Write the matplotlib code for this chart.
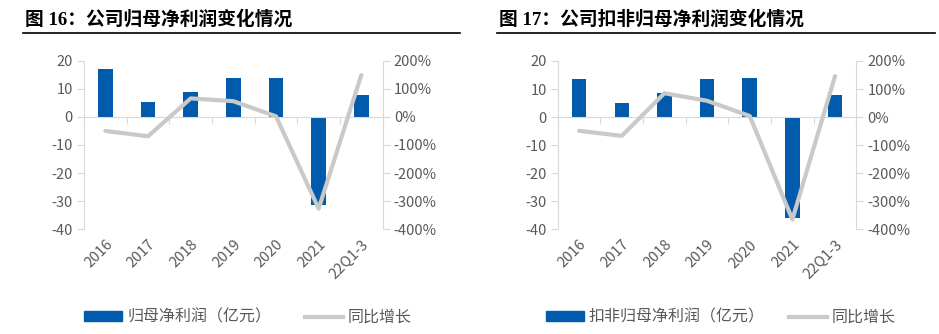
import numpy as np
import matplotlib
matplotlib.use("Agg")
import matplotlib.pyplot as plt
from matplotlib.ticker import FuncFormatter, FixedLocator
from matplotlib.patches import Patch
from matplotlib.lines import Line2D

plt.rcParams['font.family'] = ['Noto Sans CJK SC', 'DejaVu Sans']
plt.rcParams['axes.unicode_minus'] = False

categories = ['2016', '2017', '2018', '2019', '2020', '2021', '22Q1-3']

# 图16 归母净利润
profit = [16.9, 5.3, 9.0, 13.7, 14.0, -31.4, 7.8]
profit_yoy = [-50, -69, 66, 56, 2, -327, 149]

# 图17 扣非归母净利润
core_profit = [13.4, 4.9, 8.7, 13.4, 13.8, -36.0, 7.7]
core_yoy = [-49, -67, 85, 58, 4, -365, 146]

BLUE = '#005bac'
GREY_LINE = '#c9c9c9'
AXIS = '#d9d9d9'
TEXT = '#595959'

pct = FuncFormatter(lambda x, pos: '%d%%' % x)


def panel(fig, rect, title, title_x, line_x, values, yoy, bar_label, leg_x, colsp):
    ax = fig.add_axes(rect)
    x = np.arange(len(categories))
    ax.bar(x, values, width=0.34, color=BLUE, zorder=2)
    ax.set_xlim(-0.5, len(categories) - 0.5)
    ax.set_ylim(-40, 20)
    ax.set_yticks(range(-40, 21, 10))

    for s in ['top', 'right']:
        ax.spines[s].set_visible(False)
    ax.spines['left'].set_color(AXIS)
    ax.spines['bottom'].set_color(AXIS)
    ax.spines['bottom'].set_position(('data', 0))
    ax.xaxis.set_major_locator(FixedLocator(np.arange(-0.5, len(categories), 1)))
    ax.tick_params(axis='x', length=5, color=AXIS, labelbottom=False)
    ax.tick_params(axis='y', length=5, color=AXIS, labelcolor=TEXT, labelsize=10.5, pad=3)

    sec = ax.secondary_xaxis('bottom')
    sec.set_xticks(x)
    sec.set_xticklabels(categories, rotation=45, ha='right', rotation_mode='anchor')
    sec.tick_params(length=0, labelcolor=TEXT, labelsize=10.5, pad=6)
    sec.spines['bottom'].set_visible(False)

    ax2 = ax.twinx()
    ax2.plot(x, yoy, color=GREY_LINE, lw=3, solid_capstyle='round', zorder=3)
    ax2.set_ylim(-400, 200)
    ax2.set_yticks(range(-400, 201, 100))
    ax2.yaxis.set_major_formatter(pct)
    for s in ['top', 'left', 'bottom']:
        ax2.spines[s].set_visible(False)
    ax2.spines['right'].set_color(AXIS)
    ax2.tick_params(axis='y', length=5, color=AXIS, labelcolor=TEXT, labelsize=10.5, pad=3)

    fig.text(title_x, 0.925, title, fontsize=13.5, fontweight='bold', color='black',
             family=['Liberation Serif', 'Noto Sans CJK SC'], va='baseline')
    fig.add_artist(Line2D(line_x, [0.901, 0.901], color='black', lw=1.2))

    handles = [Patch(color=BLUE), Line2D([0], [0], color=GREY_LINE, lw=3)]
    fig.legend(handles, [bar_label, '同比增长'], loc='center left',
               bbox_to_anchor=(leg_x, 0.05), ncol=2, frameon=False,
               fontsize=11.5, labelcolor=TEXT, handlelength=2.4, handleheight=0.55,
               handletextpad=0.3, columnspacing=colsp, borderaxespad=0, borderpad=0)


fig = plt.figure(figsize=(9.39, 3.34), dpi=100)
panel(fig, [0.0895, 0.314, 0.318, 0.504], '图 16：公司归母净利润变化情况',
      0.0266, [0.0245, 0.490], profit, profit_yoy, '归母净利润（亿元）', 0.0895, 2.1)
panel(fig, [0.594, 0.3135, 0.318, 0.504], '图 17：公司扣非归母净利润变化情况',
      0.531, [0.529, 0.996], core_profit, core_yoy, '扣非归母净利润（亿元）', 0.581, 1.5)

fig.savefig('out.png', dpi=100)
